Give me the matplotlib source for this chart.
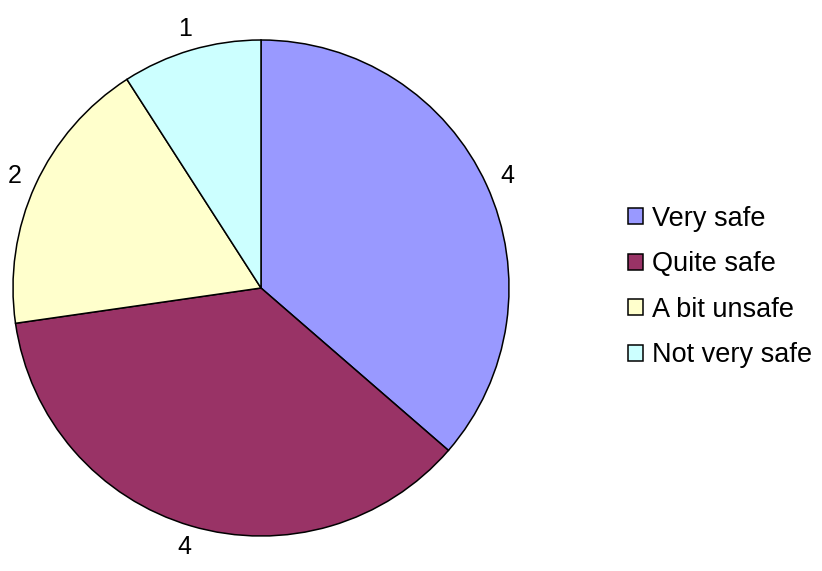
import matplotlib
matplotlib.use('Agg')
import matplotlib.pyplot as plt

plt.rcParams.update({'font.family': ['Liberation Sans', 'DejaVu Sans']})
plt.rcParams.update({'font.size': 18})

labels = ['Very safe', 'Quite safe', 'A bit unsafe', 'Not very safe']
values = [4, 4, 2, 1]
colors = ['#9999FF', '#993366', '#FFFFCC', '#CCFFFF']

fig = plt.figure(figsize=(8.22, 5.71), dpi=100)
# pie axes placed so the circle spans x 13..509, y 40..536 px
ax = fig.add_axes([13/822, 35/571, 496/822, 496/571])
wedges, texts = ax.pie(values, colors=colors, startangle=90, counterclock=False,
                       labels=[str(v) for v in values], labeldistance=1.09,
                       wedgeprops={'edgecolor': 'black', 'linewidth': 1.1})
for t in texts:
    t.set_ha('center')
    t.set_va('center')
ax.set_xlim(-1, 1)
ax.set_ylim(-1, 1)
ax.set_aspect('auto')

fig.legend(wedges, labels, loc='center left',
           bbox_to_anchor=(628/822, (571-287)/571), frameon=False,
           borderpad=0, borderaxespad=0, handlelength=0.55, handleheight=0.55,
           handletextpad=0.35, labelspacing=0.72, fontsize=19.5)

fig.savefig('out.png', dpi=100)
